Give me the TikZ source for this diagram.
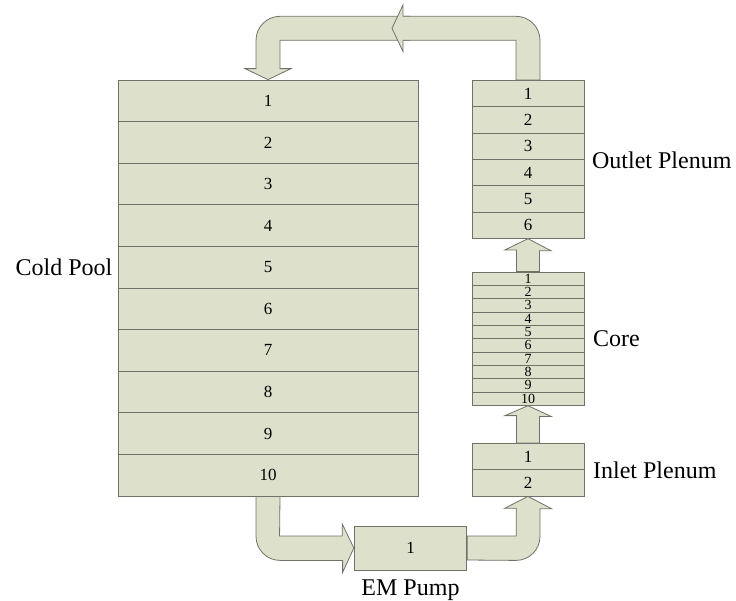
\documentclass[tikz,border=0pt]{standalone}
\usepackage{fontspec}
\setmainfont{Liberation Serif}
\usetikzlibrary{positioning,calc}
\definecolor{cellfill}{RGB}{221,225,204}
\definecolor{celldraw}{RGB}{112,114,104}

\begin{document}
\begin{tikzpicture}[
  x=1pt, y=-1pt,
  cell/.style={draw=celldraw,fill=cellfill,line width=0.8pt,inner sep=0pt,
    font=\fontsize{17}{17}\selectfont},
  poolcell/.style={cell,minimum width=300pt,minimum height=41.6pt},
  plencell/.style={cell,minimum width=112pt,minimum height=26.3pt},
  corecell/.style={cell,minimum width=112pt,minimum height=13.33pt,
    font=\fontsize{14}{14}\selectfont},
  flow/.style={draw=celldraw,fill=cellfill,line width=0.8pt},
  lbl/.style={inner sep=0pt,font=\fontsize{24}{28}\selectfont},
]
\useasboundingbox (0,0) rectangle (736,600);

% --- the loop components, stacked cells ---
\foreach \i in {1,...,10}
  \node[poolcell] (cp\i) at (268,{80+41.6*(\i-0.5)}) {\i};
\foreach \i in {1,...,6}
  \node[plencell] (op\i) at (528,{80.5+26.3*(\i-0.5)}) {\i};
\foreach \i in {1,...,10}
  \node[corecell] (co\i) at (528,{272+13.33*(\i-0.5)}) {\i};
\foreach \i in {1,2}
  \node[plencell] (ip\i) at (528,{443.4+26.3*(\i-0.5)}) {\i};

% --- labels ---
\node[lbl,left=5pt of cp5.west] {Cold Pool};
\node[lbl,right=7.5pt of op3.south east] {Outlet Plenum};
\node[lbl,right=8.5pt of co5.south east] {Core};
\node[lbl,right=8.5pt of ip1.south east] {Inlet Plenum};

% --- top return line: outlet up, over, down into the cold pool ---
\draw[flow] (cp1.north) -- ++(23,-11) -- ++(-11,0) -- ++(0,-28.3) -- ++(130,0)
  -- ++(0,-24) -- ++(-130,0) arc[start angle=-90,end angle=-180,radius=24]
  -- ++(0,28.3) -- ++(-11,0) -- cycle;
\draw[flow] ($(op1.north)+(-12,0)$) -- ++(0,-39.8) -- ++(-113,0) -- ++(0,11.3)
  -- ++(-11,-23.3) -- ++(11,-23.4) -- ++(0,11.4) -- ++(113,0)
  arc[start angle=-90,end angle=0,radius=24] -- ($(op1.north)+(12,0)$) -- cycle;

% --- short links core -> outlet, inlet -> core ---
\draw[flow] ($(co1.north)+(-11.5,0)$) -- ++(0,-21.7) -- ++(-11.5,0) -- (op6.south)
  -- ++(23,12) -- ++(-11.5,0) -- ($(co1.north)+(11.5,0)$) -- cycle;
\draw[flow] ($(ip1.north)+(-11.5,0)$) -- ++(0,-27.4) -- ++(-11.5,0) -- (co10.south)
  -- ++(23,10.7) -- ++(-11.5,0) -- ($(ip1.north)+(11.5,0)$) -- cycle;

% --- the pump and its two legs ---
\node[cell,minimum width=112.5pt,minimum height=44pt] (pump) at (410.5,548) {1};
\node[lbl,below=9pt of pump] {EM Pump};
\draw[flow] (pump.west) -- ++(-11.7,-24.2) -- ++(0,12.2) -- ++(-62.6,0)
  -- ($(cp10.south)+(12,0)$) -- ($(cp10.south)+(-12,0)$) -- ++(0,40)
  arc[start angle=180,end angle=90,radius=24] -- ++(62.6,0) -- ++(0,12) -- cycle;
\draw[flow] ($(pump.east)+(0,-12)$) -- ++(49,0) -- ++(0,-27.7) -- ++(-11.5,0)
  -- (ip2.south) -- ++(23.5,12.3) -- ++(-11.5,0) -- ++(0,27.7)
  arc[start angle=0,end angle=90,radius=24] -- ($(pump.east)+(0,12)$) -- cycle;
\end{tikzpicture}
\end{document}
